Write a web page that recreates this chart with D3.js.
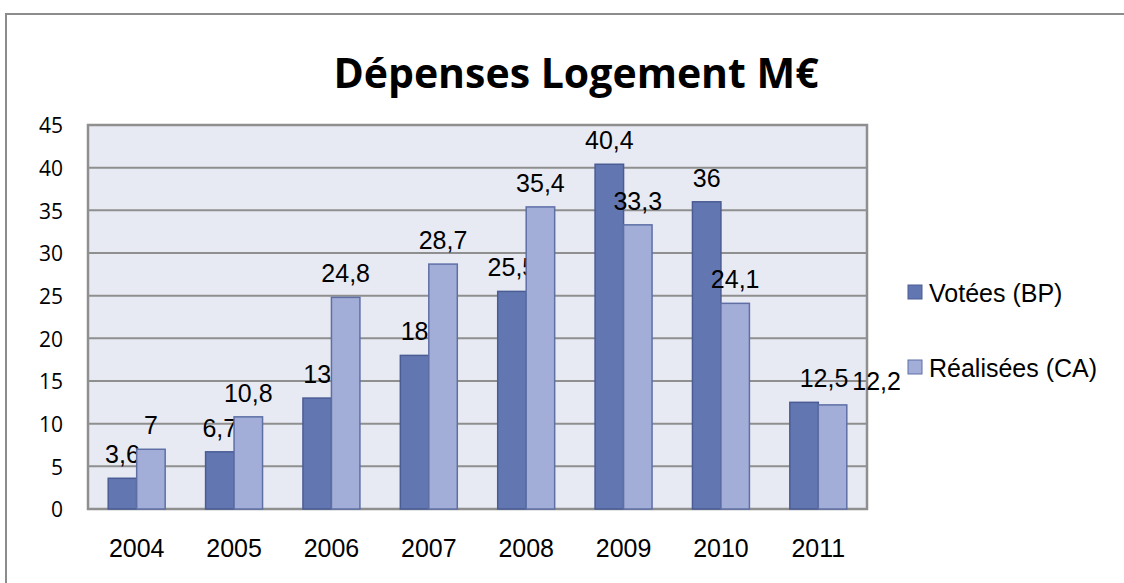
<!DOCTYPE html>
<html lang="fr">
<head>
<meta charset="utf-8">
<title>Dépenses Logement</title>
<script src="https://cdn.jsdelivr.net/npm/d3@7"></script>
<style>
  body { margin: 0; background: #fff; }
  svg text { font-family: "Liberation Sans", Arial, sans-serif; }
</style>
</head>
<body>
<script>
// data
var years = ["2004", "2005", "2006", "2007", "2008", "2009", "2010", "2011"];
var votees = [3.6, 6.7, 13, 18, 25.5, 40.4, 36, 12.5];
var realisees = [7, 10.8, 24.8, 28.7, 35.4, 33.3, 24.1, 12.2];
var seriesNames = ["Votées (BP)", "Réalisées (CA)"];
var yTicks = [0, 5, 10, 15, 20, 25, 30, 35, 40, 45];

var W = 1124, H = 583;
var plot = { left: 88, top: 125, right: 867, bottom: 509 };

var svg = d3.select("body").append("svg")
    .attr("width", W)
    .attr("height", H);

// outer frame (runs off the right and bottom edges)
svg.append("rect")
    .attr("x", 6).attr("y", 14)
    .attr("width", W + 20).attr("height", H + 20)
    .attr("fill", "#fff")
    .attr("stroke", "#8c8c8c")
    .attr("stroke-width", 2);

svg.append("text")
    .attr("x", 576).attr("y", 88)
    .attr("text-anchor", "middle")
    .style("font-family", "'Open Sans', 'Noto Sans', sans-serif")
    .style("font-weight", "bold")
    .style("font-size", "41px")
    .text("Dépenses Logement M€");

var x = d3.scaleBand()
    .domain(years)
    .range([plot.left, plot.right])
    .paddingInner(0.415)
    .paddingOuter(0.2075);

var x1 = d3.scaleBand()
    .domain([0, 1])
    .range([0, x.bandwidth()]);

var y = d3.scaleLinear()
    .domain([0, 45])
    .range([plot.bottom, plot.top]);

// plot background
svg.append("rect")
    .attr("x", plot.left).attr("y", plot.top)
    .attr("width", plot.right - plot.left)
    .attr("height", plot.bottom - plot.top)
    .attr("fill", "#e8eaf3");

// gridlines
svg.append("g")
    .selectAll("line")
    .data(yTicks)
    .enter().append("line")
    .attr("x1", plot.left).attr("x2", plot.right)
    .attr("y1", function(d) { return y(d); })
    .attr("y2", function(d) { return y(d); })
    .attr("stroke", "#8f8f8f")
    .attr("stroke-width", 2);

// plot border
svg.append("rect")
    .attr("x", plot.left).attr("y", plot.top)
    .attr("width", plot.right - plot.left)
    .attr("height", plot.bottom - plot.top)
    .attr("fill", "none")
    .attr("stroke", "#8f8f8f")
    .attr("stroke-width", 2.5);

// y axis labels
var yAxis = d3.axisLeft(y).tickValues(yTicks).tickSize(0).tickPadding(25);
var gy = svg.append("g")
    .attr("transform", "translate(" + plot.left + ",1)")
    .call(yAxis);
gy.select(".domain").remove();
gy.selectAll("text")
    .style("font-family", "'Open Sans', 'Noto Sans', sans-serif")
    .style("font-size", "21px")
    .attr("fill", "#000");

// x axis labels
var xAxis = d3.axisBottom(x).tickSize(0).tickPadding(30);
var gx = svg.append("g")
    .attr("transform", "translate(0," + plot.bottom + ")")
    .call(xAxis);
gx.select(".domain").remove();
gx.selectAll("text")
    .style("font-size", "25px")
    .attr("fill", "#000");

var colors = ["#6276b1", "#a3aed8"];
var strokes = ["#4a5c94", "#5e6fa6"];
var series = [votees, realisees];

var fmt = function(v) { return String(v).replace(".", ","); };

var labels = [];
series.forEach(function(vals, s) {
    var g = svg.append("g");
    g.selectAll("rect")
        .data(vals)
        .enter().append("rect")
        .attr("x", function(d, i) { return x(years[i]) + x1(s); })
        .attr("y", function(d) { return y(d); })
        .attr("width", x1.bandwidth())
        .attr("height", function(d) { return plot.bottom - y(d); })
        .attr("fill", colors[s])
        .attr("stroke", strokes[s])
        .attr("stroke-width", 1.5);

    g.selectAll("text")
        .data(vals)
        .enter().append("text")
        .attr("x", function(d, i) { return x(years[i]) + x1(s) + x1.bandwidth() / 2; })
        .attr("y", function(d) { return y(d) - 15; })
        .attr("text-anchor", "middle")
        .style("font-size", "25px")
        .text(fmt)
        .each(function(d, i) { labels[s * years.length + i] = this; });
});

// push apart labels of a group that collide (like 2011)
years.forEach(function(yr, i) {
    var a = labels[i], b = labels[years.length + i];
    var ba = a.getBBox(), bb = b.getBBox();
    var overlapX = ba.x + ba.width + 4 - bb.x;
    var overlapY = Math.min(ba.y + ba.height, bb.y + bb.height) - Math.max(ba.y, bb.y);
    if (overlapX > 0 && overlapY > 10) {
        d3.select(a).attr("x", +a.getAttribute("x") + 32 - overlapX / 2);
        d3.select(b).attr("x", +b.getAttribute("x") + 32 + overlapX / 2);
    }
});

// legend
var legend = svg.append("g")
    .selectAll("g")
    .data(seriesNames)
    .enter().append("g")
    .attr("transform", function(d, i) { return "translate(908," + (292 + i * 75) + ")"; });

legend.append("rect")
    .attr("x", 0).attr("y", -7)
    .attr("width", 14).attr("height", 14)
    .attr("fill", function(d, i) { return colors[i]; })
    .attr("stroke", function(d, i) { return strokes[i]; });

legend.append("text")
    .attr("x", 21).attr("y", 1)
    .attr("dy", "0.35em")
    .style("font-size", "25px")
    .text(function(d) { return d; });
</script>
</body>
</html>
